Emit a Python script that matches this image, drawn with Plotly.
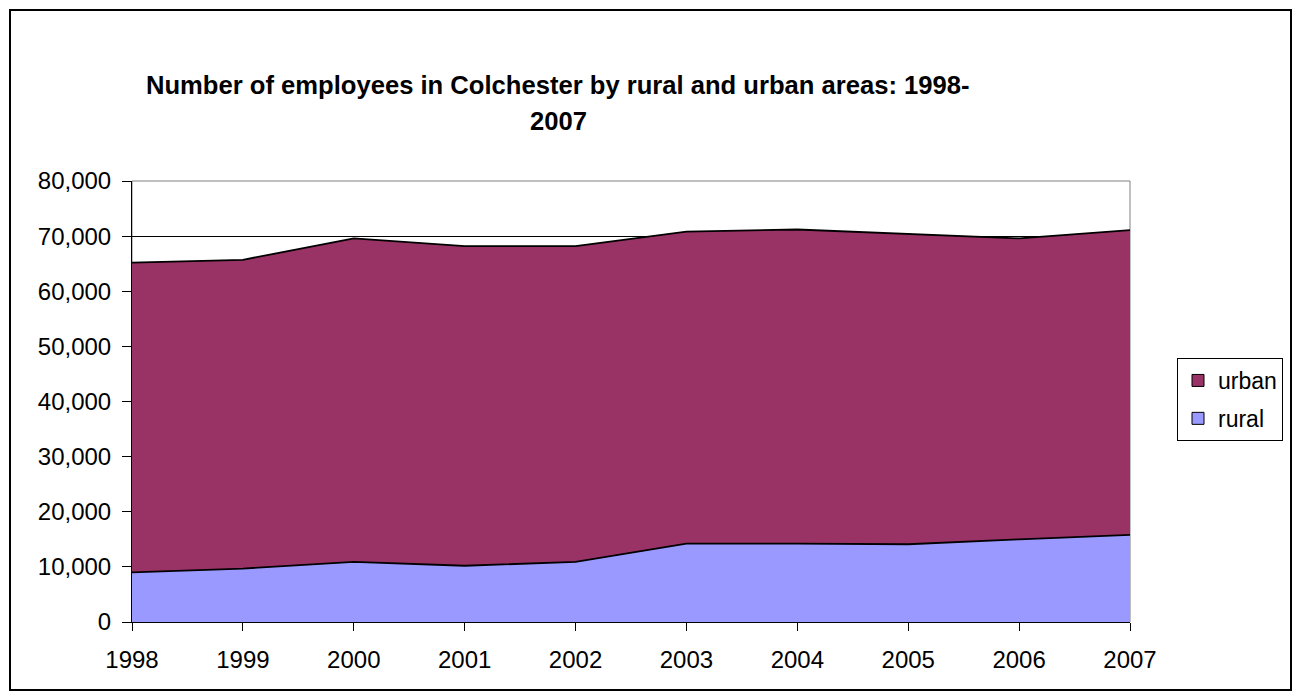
import plotly.graph_objects as go

# Employees by area type, Colchester 1998-2007
years = [1998, 1999, 2000, 2001, 2002, 2003, 2004, 2005, 2006, 2007]
rural = [9000, 9700, 10900, 10200, 10900, 14200, 14200, 14100, 15000, 15800]
urban = [56200, 56000, 58700, 58000, 57300, 56600, 57000, 56300, 54600, 55300]

y_ticks = [0, 10000, 20000, 30000, 40000, 50000, 60000, 70000, 80000]
title_lines = ["Number of employees in Colchester by rural and urban areas: 1998-", "2007"]

RURAL_COLOR = "#9999FF"
URBAN_COLOR = "#993366"
FONT = "Liberation Sans, Arial, sans-serif"

fig = go.Figure()

# stacked areas (rural at the bottom, urban on top)
fig.add_trace(go.Scatter(
    x=years, y=rural, name="rural", stackgroup="one", mode="lines",
    line=dict(color="black", width=1.8), fillcolor=RURAL_COLOR, showlegend=False,
))
fig.add_trace(go.Scatter(
    x=years, y=urban, name="urban", stackgroup="one", mode="lines",
    line=dict(color="black", width=1.8), fillcolor=URBAN_COLOR, showlegend=False,
))

# legend entries with square swatches
for name, color, grp in [("urban", URBAN_COLOR, "a"), ("rural", RURAL_COLOR, "b")]:
    fig.add_trace(go.Scatter(
        x=[None], y=[None], mode="markers", name=name, legendgroup=grp,
        marker=dict(symbol="square", size=12, color=color, line=dict(color="black", width=1)),
    ))

L, R, T, B = 132, 1130, 181, 622
W, H = 1299, 699

fig.update_layout(
    width=W, height=H,
    margin=dict(l=L, r=W - R, t=T, b=H - B),
    paper_bgcolor="white", plot_bgcolor="white",
    font=dict(family=FONT, size=24, color="black"),
    legend=dict(
        x=(1177 - L) / (R - L), y=(B - 358) / (B - T), xanchor="left", yanchor="top",
        bordercolor="black", borderwidth=1, bgcolor="white",
        font=dict(size=23), tracegroupgap=5, itemwidth=30,
    ),
    xaxis=dict(
        range=[years[0], years[-1]], tickvals=years, ticktext=[str(y) for y in years],
        showgrid=False, zeroline=False, showline=True, linecolor="black", linewidth=1,
        ticks="outside", ticklen=8, tickcolor="black", ticklabelstandoff=8,
    ),
    yaxis=dict(
        range=[0, 80000], tickvals=y_ticks, ticktext=[f"{v:,}" for v in y_ticks],
        showgrid=True, gridcolor="black", gridwidth=1, zeroline=False,
        showline=True, linecolor="black", linewidth=1,
        ticks="outside", ticklen=9, tickcolor="black", ticklabelstandoff=6,
    ),
    shapes=[
        # plot area frame
        dict(type="rect", xref="paper", yref="paper", x0=0, y0=0, x1=1, y1=1,
             line=dict(color="#808080", width=1), layer="below"),
        # outer chart border
        dict(type="rect", xref="paper", yref="paper",
             x0=(10 - L) / (R - L), x1=(1291 - L) / (R - L),
             y0=(B - 690) / (B - T), y1=(B - 10) / (B - T),
             line=dict(color="black", width=2)),
    ],
)

title_x = (558 - L) / (R - L)
for text, ypix in zip(title_lines, [85, 121]):
    fig.add_annotation(
        text=f"<b>{text}</b>", xref="paper", yref="paper",
        x=title_x, y=(B - ypix) / (B - T), xanchor="center", yanchor="middle",
        showarrow=False, font=dict(family=FONT, size=25.6, color="black"),
    )

fig.write_html("out.html")
